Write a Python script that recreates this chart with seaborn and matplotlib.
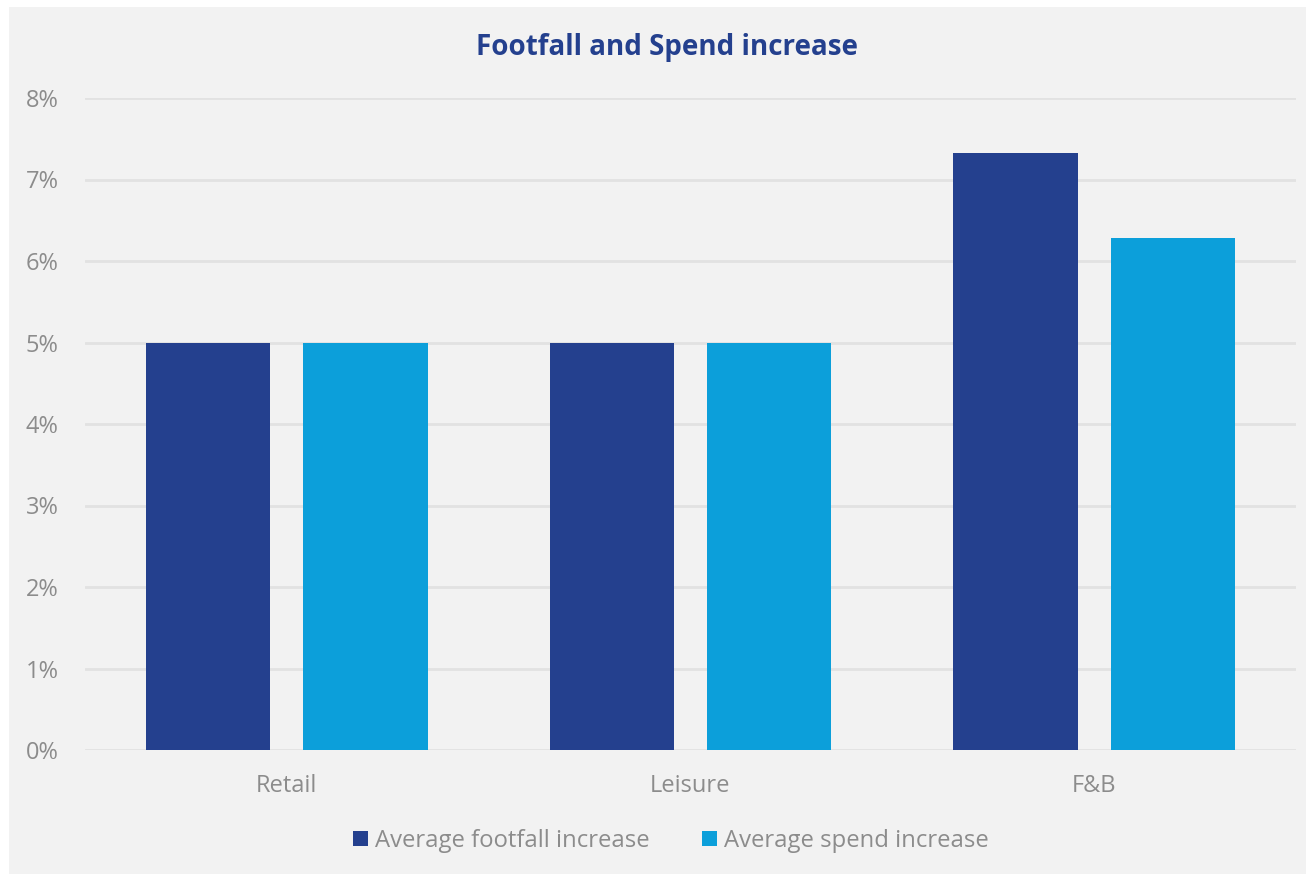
import matplotlib
matplotlib.use("Agg")
import matplotlib.pyplot as plt
from matplotlib.patches import Rectangle, Patch
from matplotlib.ticker import FuncFormatter, MultipleLocator
import seaborn as sns
import pandas as pd

# Data
categories = ["Retail", "Leisure", "F&B"]
series_names = ["Average footfall increase", "Average spend increase"]
footfall = [5.0, 5.0, 7.33]
spend = [5.0, 5.0, 6.28]

colors = ["#24408E", "#0C9FDA"]
panel_bg = "#F2F2F2"
text_grey = "#8C8C8C"
grid_col = "#E2E2E2"

df = pd.DataFrame({
    "category": categories * 2,
    "series": [series_names[0]] * 3 + [series_names[1]] * 3,
    "value": footfall + spend,
})

sns.set_theme(style="white")
plt.rcParams["font.family"] = ["Open Sans", "DejaVu Sans"]

W, H = 1306, 874
fig = plt.figure(figsize=(W / 100, H / 100), dpi=100, facecolor="white")
# grey card behind the chart
fig.patches.append(Rectangle((9 / W, 0), 1 - 9 / W, 1 - 7 / H,
                             transform=fig.transFigure, facecolor=panel_bg,
                             edgecolor="none", zorder=-1))

ax = fig.add_axes([85 / W, 1 - 750 / H, (1296 - 85) / W, (750 - 98) / H])
ax.set_facecolor(panel_bg)

sns.barplot(data=df, x="category", y="value", hue="series", order=categories,
            hue_order=series_names, palette=colors, width=0.78, gap=0.21,
            saturation=1, linewidth=0, ax=ax, legend=False, zorder=3)

ax.set_ylim(0, 8)
ax.yaxis.set_major_locator(MultipleLocator(1))
ax.yaxis.set_major_formatter(FuncFormatter(lambda v, p: f"{v:.0f}%"))
ax.grid(axis="y", color=grid_col, linewidth=2, zorder=0)
ax.set_axisbelow(True)
for s in ax.spines.values():
    s.set_visible(False)
ax.set_xlabel("")
ax.set_ylabel("")
ax.tick_params(axis="y", length=0, pad=19, labelsize=17, labelcolor=text_grey)
ax.tick_params(axis="x", length=0, pad=17, labelsize=17, labelcolor=text_grey)

fig.text(667 / W, 1 - 48 / H, "Footfall and Spend increase", ha="center",
         va="center", fontsize=20, fontweight="bold", color="#24408E")

handles = [Patch(facecolor=c, edgecolor="none", label=n)
           for c, n in zip(colors, series_names)]
fig.legend(handles=handles, loc="center", bbox_to_anchor=(671 / W, 1 - 841 / H),
           ncol=2, frameon=False, fontsize=17.2, labelcolor=text_grey,
           handlelength=0.62, handleheight=0.62, handletextpad=0.3,
           columnspacing=2.2)

fig.savefig("out.png", dpi=100, facecolor="white")
